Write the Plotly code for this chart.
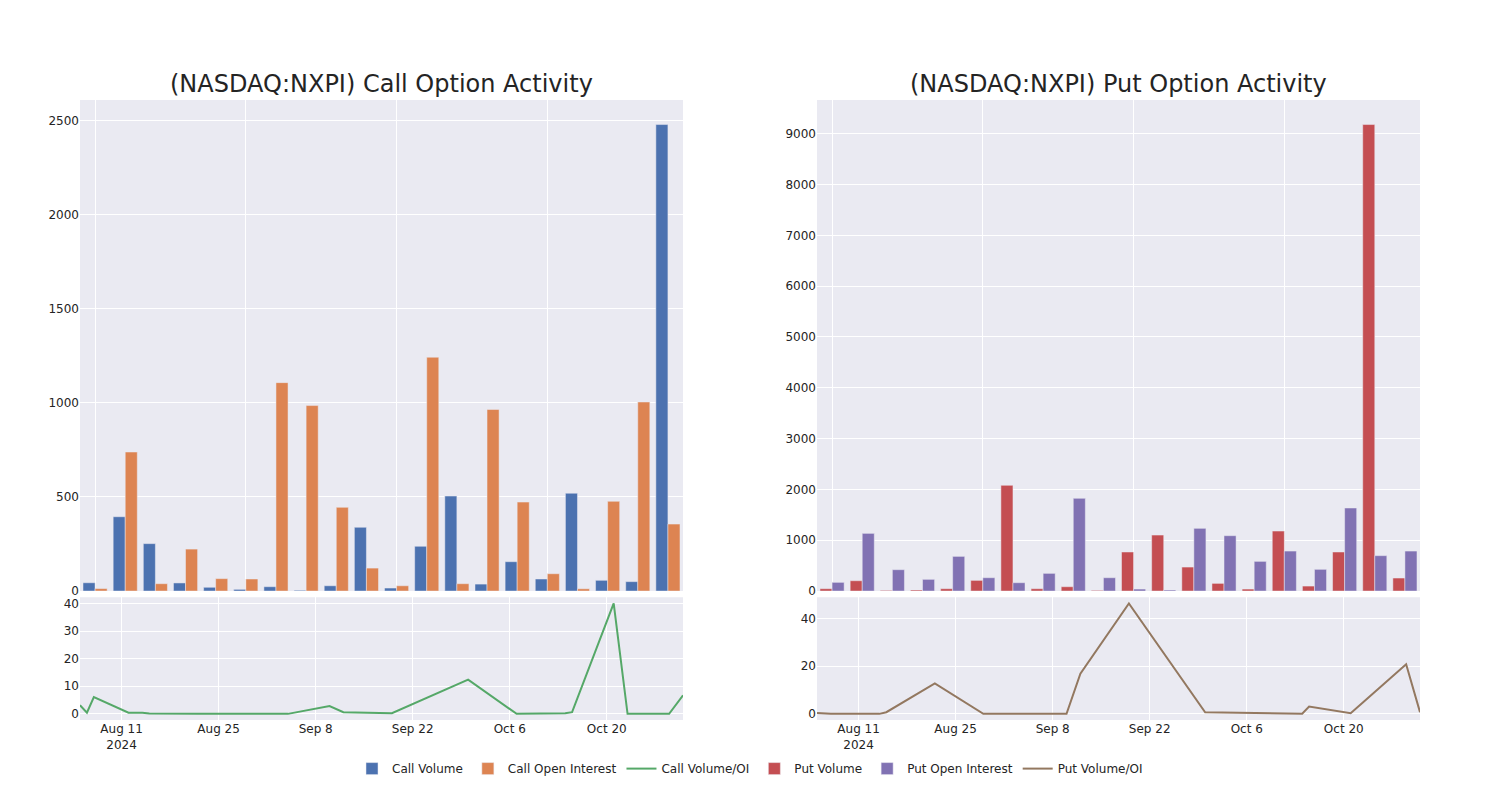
import plotly.graph_objects as go
from plotly.subplots import make_subplots

dates = ["2024-08-05", "2024-08-06", "2024-08-07", "2024-08-12", "2024-08-14",
         "2024-08-15", "2024-08-22", "2024-08-29", "2024-09-04", "2024-09-10",
         "2024-09-12", "2024-09-19", "2024-09-30", "2024-10-07", "2024-10-14",
         "2024-10-15", "2024-10-21", "2024-10-23", "2024-10-29", "2024-10-31"]
idx = list(range(len(dates)))

call_volume = [44, 395, 252, 43, 20, 9, 23, 4, 28, 339,
               16, 238, 505, 37, 156, 64, 520, 57, 50, 2480]
call_oi = [13, 739, 39, 223, 66, 64, 1108, 986, 445, 122,
           28, 1243, 39, 965, 473, 92, 12, 477, 1005, 356]
call_ratio = [3.1, 0.4, 6.1, 0.4, 0.4, 0.15, 0.0, 0.0, 0.0, 2.8,
              0.6, 0.25, 12.4, 0.0, 0.25, 0.6, 40.0, 0.0, 0.0, 6.7]

put_volume = [46, 203, 13, 20, 46, 210, 2080, 46, 85, 13,
              768, 1102, 472, 151, 39, 1181, 98, 768, 9180, 256]
put_oi = [171, 1135, 420, 230, 682, 262, 164, 348, 1824, 262,
          39, 20, 1234, 1089, 584, 787, 427, 1634, 696, 787]
put_ratio = [0.4, 0.05, 0.0, 0.0, 0.0, 0.7, 12.8, 0.0, 0.0, 0.0,
             16.9, 46.4, 0.7, 0.4, 0.05, 3.1, 0.3, 5.4, 20.8, 0.7]

titles = ["(NASDAQ:NXPI) Call Option Activity", "(NASDAQ:NXPI) Put Option Activity"]

C_BLUE = "rgb(76,114,176)"
C_ORANGE = "rgb(221,132,82)"
C_GREEN = "rgb(85,168,104)"
C_RED = "rgb(196,78,82)"
C_PURPLE = "rgb(129,114,179)"
C_BROWN = "rgb(147,120,96)"

fig = make_subplots(rows=2, cols=2, row_heights=[0.8, 0.2],
                    vertical_spacing=0.01, horizontal_spacing=0.1,
                    subplot_titles=[titles[0], titles[1], "", ""])

bar_line = dict(color="rgb(234,234,242)", width=0.5)

fig.add_trace(go.Bar(x=idx, y=call_volume, name="Call Volume",
                     marker=dict(color=C_BLUE, line=bar_line)), row=1, col=1)
fig.add_trace(go.Bar(x=idx, y=call_oi, name="Call Open Interest",
                     marker=dict(color=C_ORANGE, line=bar_line)), row=1, col=1)
fig.add_trace(go.Scatter(x=dates, y=call_ratio, name="Call Volume/OI", mode="lines",
                         line=dict(color=C_GREEN, width=2)), row=2, col=1)
fig.add_trace(go.Bar(x=idx, y=put_volume, name="Put Volume",
                     marker=dict(color=C_RED, line=bar_line)), row=1, col=2)
fig.add_trace(go.Bar(x=idx, y=put_oi, name="Put Open Interest",
                     marker=dict(color=C_PURPLE, line=bar_line)), row=1, col=2)
fig.add_trace(go.Scatter(x=dates, y=put_ratio, name="Put Volume/OI", mode="lines",
                         line=dict(color=C_BROWN, width=2)), row=2, col=2)

fig.update_layout(
    template="seaborn",
    width=1492, height=792,
    margin=dict(l=72, r=80, t=92, b=80),
    font=dict(family="DejaVu Sans", size=12, color="rgb(36,36,36)"),
    barmode="group",
    legend=dict(orientation="h", x=0.5, xanchor="center", y=-0.055, yanchor="top",
                font=dict(size=12)),
)
for ann in fig.layout.annotations:
    ann.font = dict(size=24, family="DejaVu Sans", color="rgb(36,36,36)")

fig.update_xaxes(showticklabels=False, row=1, col=1)
fig.update_xaxes(showticklabels=False, row=1, col=2)
fig.update_xaxes(type="date", row=2, col=1)
fig.update_xaxes(type="date", row=2, col=2)

fig.write_html("out.html")
